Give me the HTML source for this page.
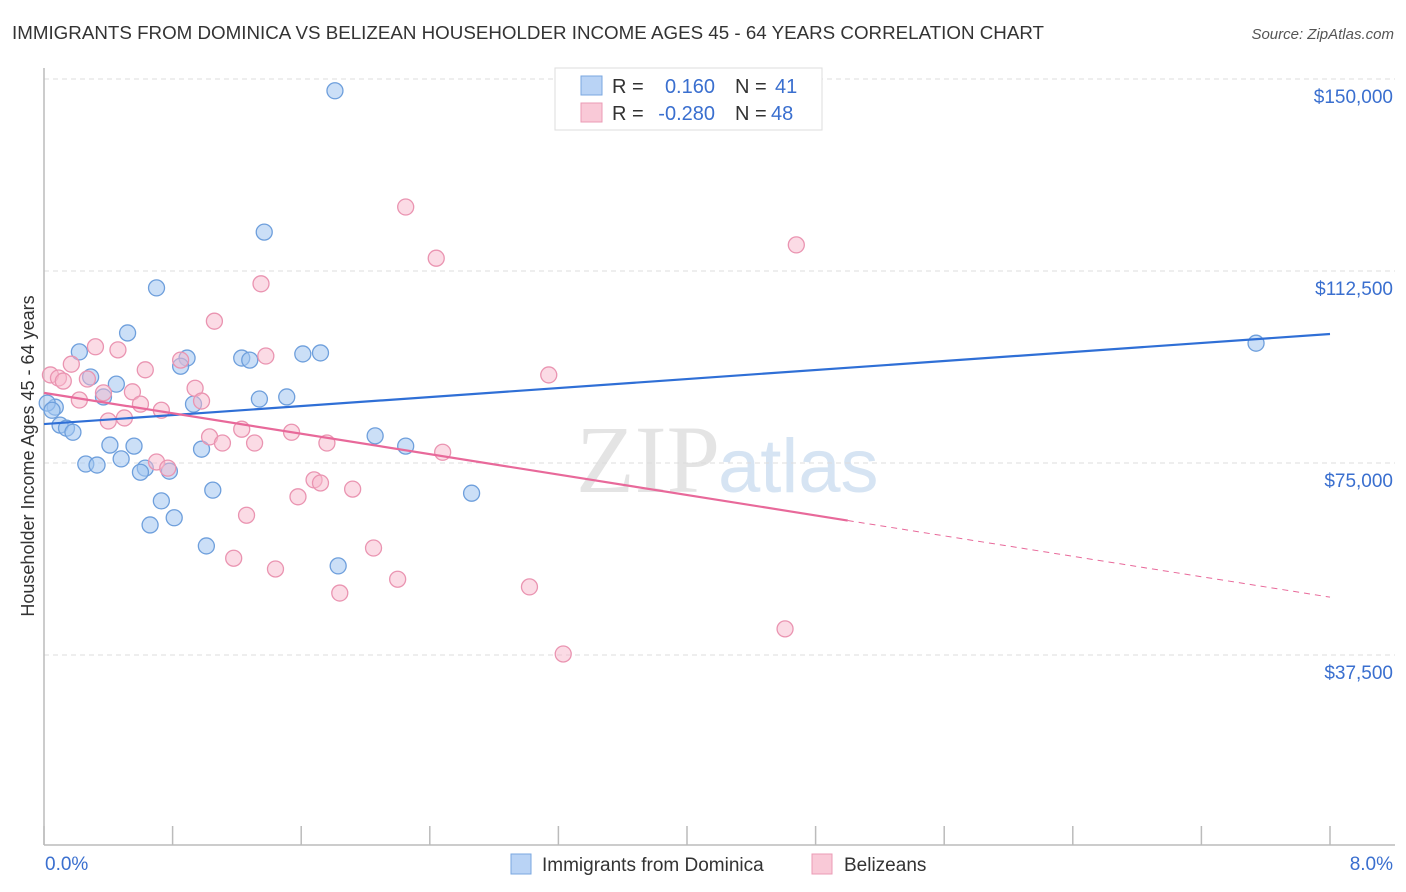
<!DOCTYPE html>
<html><head><meta charset="utf-8">
<style>
body{margin:0;background:#fff;font-family:"Liberation Sans",sans-serif;}
#wrap{position:relative;width:1406px;height:892px;overflow:hidden;}
</style></head>
<body>
<div id="wrap">
<svg id="svg" width="1406" height="892" xmlns="http://www.w3.org/2000/svg">
<text x="12" y="39" font-size="18" fill="#333" textLength="1032" lengthAdjust="spacingAndGlyphs">IMMIGRANTS FROM DOMINICA VS BELIZEAN HOUSEHOLDER INCOME AGES 45 - 64 YEARS CORRELATION CHART</text>
<text x="1394" y="39" font-size="15" fill="#555" font-style="italic" text-anchor="end">Source: ZipAtlas.com</text>
<text x="720" y="492" font-size="96" fill="#e4e4e4" text-anchor="end" font-family="Liberation Serif,serif">ZIP</text>
<text x="718" y="492" font-size="76" fill="#d6e4f3">atlas</text>
<text transform="translate(34,456) rotate(-90)" font-size="18" fill="#333" text-anchor="middle">Householder Income Ages 45 - 64 years</text>
<g id="grid"></g><g id="marks"></g>
<g>
<rect x="555" y="68" width="267" height="62" fill="#fff" stroke="#ddd"/>
<rect x="581" y="76" width="21" height="19" fill="#b9d3f5" stroke="#7aa7e0"/>
<rect x="581" y="103" width="21" height="19" fill="#f9c9d7" stroke="#eb9bb5"/>
<text x="612" y="93" font-size="20" fill="#333">R =</text>
<text x="715" y="93" font-size="20" fill="#3a6fcf" text-anchor="end">0.160</text>
<text x="735" y="93" font-size="20" fill="#333">N =</text>
<text x="775" y="93" font-size="20" fill="#3a6fcf">41</text>
<text x="612" y="120" font-size="20" fill="#333">R =</text>
<text x="715" y="120" font-size="20" fill="#3a6fcf" text-anchor="end">-0.280</text>
<text x="735" y="120" font-size="20" fill="#333">N =</text>
<text x="771" y="120" font-size="20" fill="#3a6fcf">48</text>
</g>
<g>
<rect x="511" y="854" width="20" height="20" fill="#b9d3f5" stroke="#7aa7e0"/>
<text x="542" y="871" font-size="19" fill="#333">Immigrants from Dominica</text>
<rect x="812" y="854" width="20" height="20" fill="#f9c9d7" stroke="#eb9bb5"/>
<text x="844" y="871" font-size="19" fill="#333">Belizeans</text>
</g>
</svg>
</div>
<script>
const blueX=[1.81,1.37,0.70,0.52,0.22,0.89,1.23,1.28,1.61,1.72,0.85,0.29,0.45,0.37,1.34,1.51,0.93,0.07,0.02,0.05,0.10,0.14,0.18,2.06,2.25,0.41,0.56,0.98,0.48,0.26,0.33,0.63,0.60,0.78,1.05,2.66,0.73,0.81,0.66,1.01,1.83,7.54];
const blueY=[147700,120100,109200,100400,96700,95500,95500,95100,96300,96500,93900,91800,90400,87900,87500,87900,86500,85900,86700,85300,82400,81800,81000,80300,78300,78500,78300,77700,75800,74800,74600,74000,73200,73400,69700,69100,67600,64300,62900,58800,54900,98400];
const pinkX=[2.25,4.68,2.44,1.35,1.06,0.32,0.46,1.38,0.17,0.85,0.63,3.14,0.04,0.09,0.12,0.27,0.94,0.55,0.37,0.22,0.98,0.60,0.73,0.50,0.40,1.23,1.54,1.03,1.11,1.31,1.76,2.48,0.70,0.77,1.68,1.72,1.92,1.58,1.26,2.05,1.18,1.44,2.20,1.84,3.02,4.61,3.23];
const pinkY=[125000,117600,115000,110000,102700,97700,97100,95900,94300,95100,93200,92200,92200,91600,91000,91400,89600,88900,88700,87300,87100,86500,85300,83800,83200,81600,81000,80100,78900,78900,78900,77100,75200,74000,71700,71100,69900,68400,64800,58400,56400,54300,52300,49600,50800,42600,37700];
const blueTrend=[82600,100200];
const pinkTrend=[88700,48800];
const pinkSolidEnd=5.0;
const yTicks=[37500,75000,112500,150000];
const yTickLabels=["$37,500","$75,000","$112,500","$150,000"];
const xTicks=[0,0.8,1.6,2.4,3.2,4.0,4.8,5.6,6.4,7.2,8.0];

const NS="http://www.w3.org/2000/svg";
const X=v=>44+v/8*1286;
const Y=v=>847-v/37500*192;
function mk(t,a,p){const e=document.createElementNS(NS,t);for(const k in a)e.setAttribute(k,a[k]);p.appendChild(e);return e;}
const grid=document.getElementById('grid'),marks=document.getElementById('marks');
yTicks.forEach((v,i)=>{
 const l=mk('line',{x1:44,x2:1395,y1:Y(v),y2:Y(v),stroke:'#ddd','stroke-dasharray':'5,4'},grid);
 
 
 const t=mk('text',{x:1393,y:Y(v)+24,'font-size':19,fill:'#3a6fcf','text-anchor':'end'},grid);
 t.textContent=yTickLabels[i];
 
 
});
const ax=mk('line',{x1:44,x2:44,y1:68,y2:845,stroke:'#bbb','stroke-width':1.5},grid);


const bx=mk('line',{x1:44,x2:1395,y1:845,y2:845,stroke:'#bbb','stroke-width':1.5},grid);


xTicks.forEach(v=>{
 const l=mk('line',{x1:X(v),x2:X(v),y1:826,y2:845,stroke:'#bbb','stroke-width':1.5},grid);
 
 
});
const t0=mk('text',{x:45,y:870,'font-size':19,fill:'#3a6fcf'},grid);t0.textContent='0.0%';


const t1=mk('text',{x:1393,y:870,'font-size':19,fill:'#3a6fcf','text-anchor':'end'},grid);t1.textContent='8.0%';



blueX.forEach((x,i)=>{
 const c=mk('circle',{cx:X(x),cy:Y(blueY[i]),r:8,fill:'rgba(160,196,240,0.55)',stroke:'#6e9fdc','stroke-width':1.3},marks);
 
 
});
pinkX.forEach((x,i)=>{
 const c=mk('circle',{cx:X(x),cy:Y(pinkY[i]),r:8,fill:'rgba(247,184,203,0.5)',stroke:'#ea94b1','stroke-width':1.3},marks);
 
 
});
const pv=x=>pinkTrend[0]+(pinkTrend[1]-pinkTrend[0])*x/8;
const bl=mk('line',{x1:X(0),y1:Y(blueTrend[0]),x2:X(8),y2:Y(blueTrend[1]),stroke:'#2f6fd6','stroke-width':2.2},marks);


const pl=mk('line',{x1:X(0),y1:Y(pv(0)),x2:X(pinkSolidEnd),y2:Y(pv(pinkSolidEnd)),stroke:'#e8699a','stroke-width':2.2},marks);


const pd=mk('line',{x1:X(pinkSolidEnd),y1:Y(pv(pinkSolidEnd)),x2:X(8),y2:Y(pv(8)),stroke:'#e8699a','stroke-width':1,'stroke-dasharray':'6,5'},marks);


</script>
</body></html>
